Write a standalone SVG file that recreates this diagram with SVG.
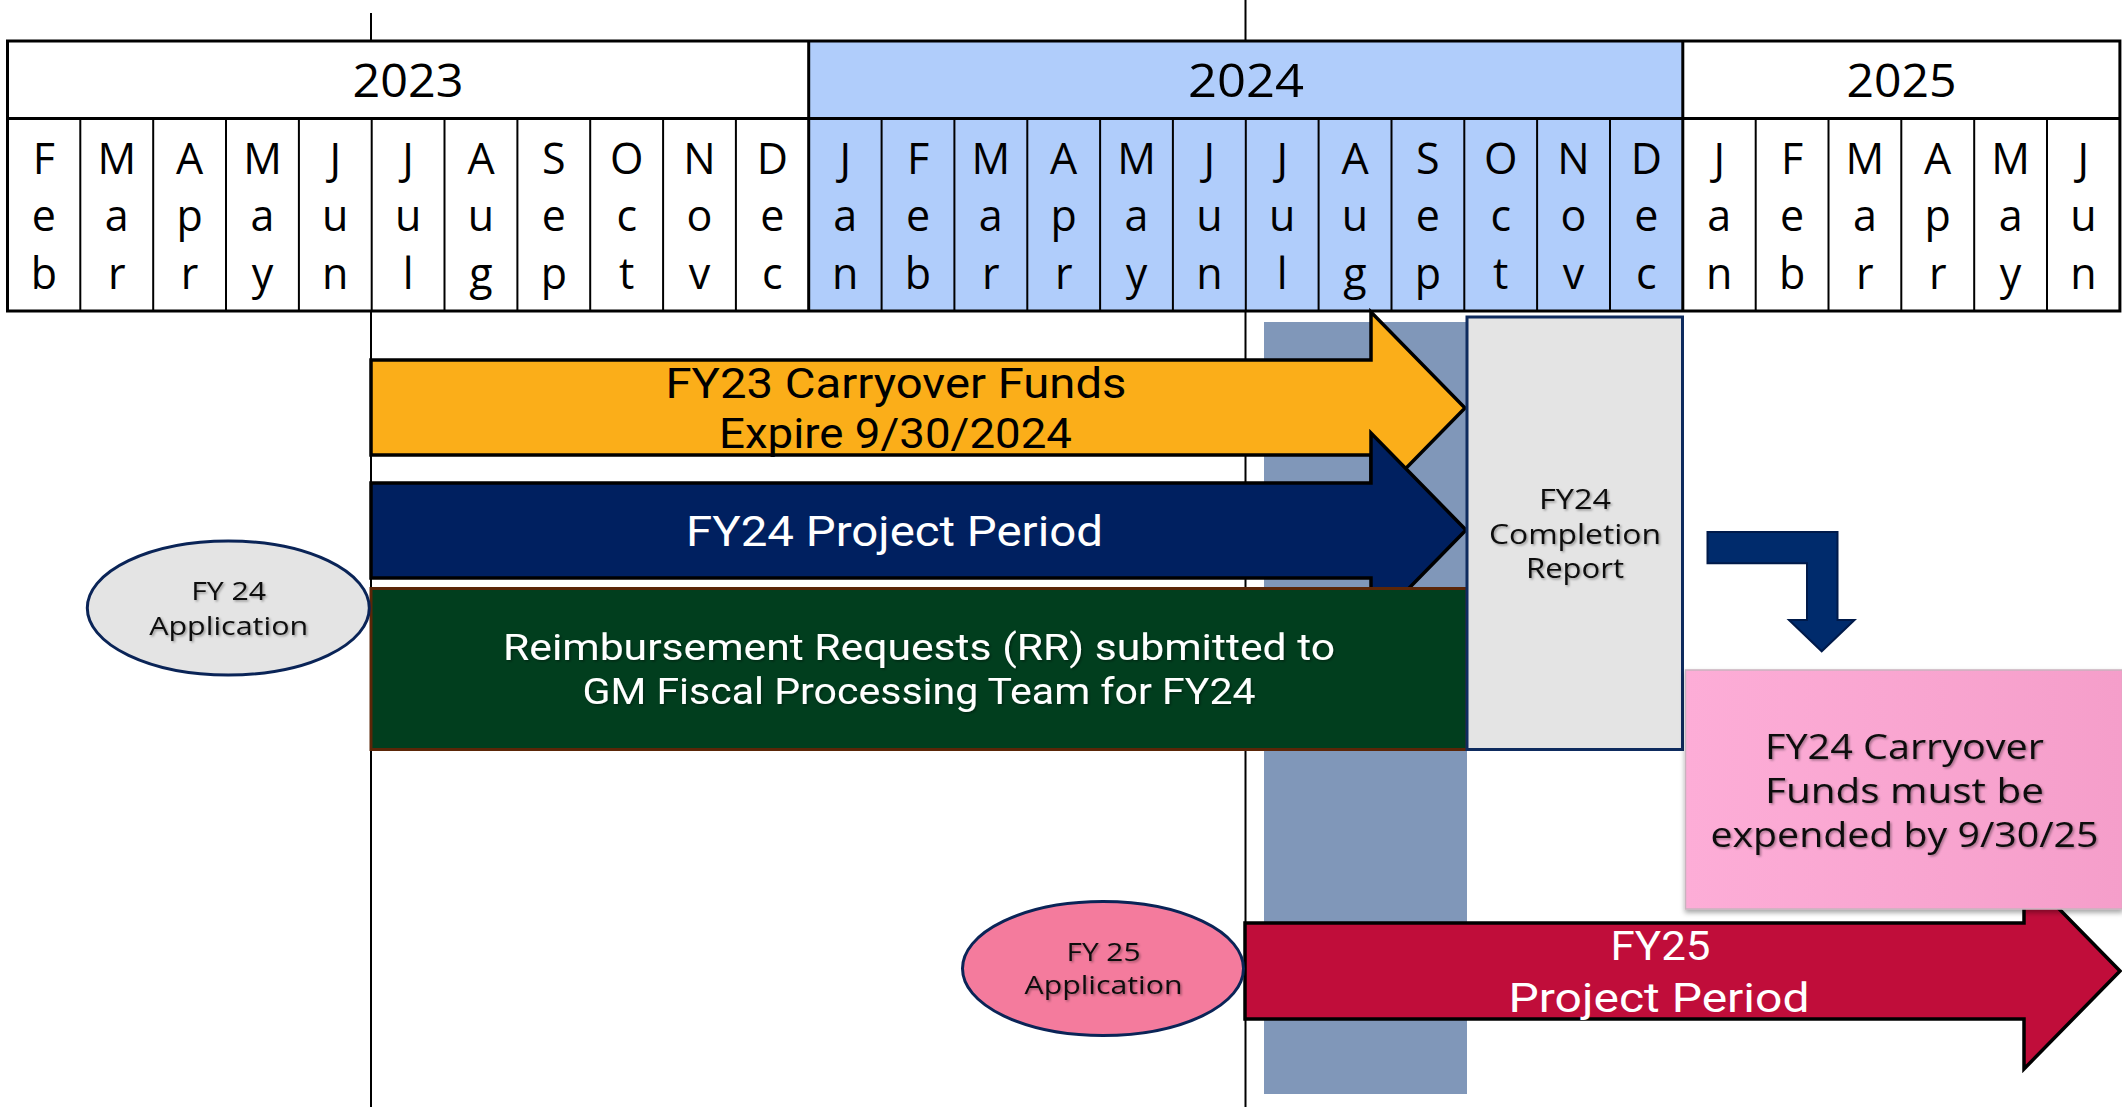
<svg xmlns="http://www.w3.org/2000/svg" width="2122" height="1107" viewBox="0 0 2122 1107">
  <style>
    .lbl { font-family: "Open Sans", "Noto Sans", "Liberation Sans", sans-serif; }
    .bar { font-family: Roboto, "Liberation Sans", sans-serif; }
    .month { font-size: 43px; fill: #000; text-anchor: middle; }
    .year { font-size: 46px; fill: #000; text-anchor: middle; }
    .mid { text-anchor: middle; }
    .arrow { stroke: #000; stroke-width: 3.5; stroke-linejoin: miter; }
    .grid { stroke: #000; stroke-width: 2; fill: none; }
    .rule { stroke: #000; stroke-width: 2; }
  </style>
  <defs>
    <filter id="softShadow" x="-10%" y="-20%" width="120%" height="140%">
      <feDropShadow dx="1.5" dy="1.5" stdDeviation="1" flood-color="#000" flood-opacity="0.35"/>
    </filter>
    <filter id="boxShadow" x="-5%" y="-5%" width="110%" height="115%">
      <feDropShadow dx="0" dy="3" stdDeviation="2.5" flood-color="#000" flood-opacity="0.35"/>
    </filter>
    <linearGradient id="pinkFill" x1="0" y1="0" x2="1" y2="0">
      <stop offset="0" stop-color="#FDADD7"/>
      <stop offset="1" stop-color="#F59ECA"/>
    </linearGradient>
  </defs>

  <rect width="2122" height="1107" fill="#fff"/>

  <!-- Timeline header: years and months -->
  <g id="timeline">
    <rect x="7.5" y="41" width="2112.4" height="270" fill="#fff"/>
    <rect x="808.7" y="41" width="874.1" height="270" fill="#B0CDFB"/>
    <path class="grid" d="M80.3,118.5V311 M153.2,118.5V311 M226,118.5V311 M298.9,118.5V311 M371.7,118.5V311 M444.5,118.5V311 M517.4,118.5V311 M590.2,118.5V311 M663.1,118.5V311 M735.9,118.5V311 M881.6,118.5V311 M954.4,118.5V311 M1027.3,118.5V311 M1100.1,118.5V311 M1172.9,118.5V311 M1245.8,118.5V311 M1318.6,118.5V311 M1391.5,118.5V311 M1464.3,118.5V311 M1537.1,118.5V311 M1610,118.5V311 M1755.7,118.5V311 M1828.5,118.5V311 M1901.3,118.5V311 M1974.2,118.5V311 M2047,118.5V311"/>
    <path d="M808.7,41V311 M1682.8,41V311 M7.5,118.5H2119.9" stroke="#000" stroke-width="3" fill="none"/>
    <rect x="7.5" y="41" width="2112.4" height="270" fill="none" stroke="#000" stroke-width="3"/>

    <text class="lbl year" x="408" y="96.5" textLength="111" lengthAdjust="spacingAndGlyphs">2023</text>
    <text class="lbl year" x="1246" y="96.5" textLength="116" lengthAdjust="spacingAndGlyphs">2024</text>
    <text class="lbl year" x="1901.5" y="96.5" textLength="110" lengthAdjust="spacingAndGlyphs">2025</text>

    <g class="lbl month">
      <text x="43.9" y="174"><tspan x="43.9">F</tspan><tspan x="43.9" dy="57.3">e</tspan><tspan x="43.9" dy="57.3">b</tspan></text>
      <text x="116.8" y="174"><tspan x="116.8">M</tspan><tspan x="116.8" dy="57.3">a</tspan><tspan x="116.8" dy="57.3">r</tspan></text>
      <text x="189.6" y="174"><tspan x="189.6">A</tspan><tspan x="189.6" dy="57.3">p</tspan><tspan x="189.6" dy="57.3">r</tspan></text>
      <text x="262.5" y="174"><tspan x="262.5">M</tspan><tspan x="262.5" dy="57.3">a</tspan><tspan x="262.5" dy="57.3">y</tspan></text>
      <text x="335.3" y="174"><tspan x="335.3">J</tspan><tspan x="335.3" dy="57.3">u</tspan><tspan x="335.3" dy="57.3">n</tspan></text>
      <text x="408.1" y="174"><tspan x="408.1">J</tspan><tspan x="408.1" dy="57.3">u</tspan><tspan x="408.1" dy="57.3">l</tspan></text>
      <text x="481" y="174"><tspan x="481">A</tspan><tspan x="481" dy="57.3">u</tspan><tspan x="481" dy="57.3">g</tspan></text>
      <text x="553.8" y="174"><tspan x="553.8">S</tspan><tspan x="553.8" dy="57.3">e</tspan><tspan x="553.8" dy="57.3">p</tspan></text>
      <text x="626.7" y="174"><tspan x="626.7">O</tspan><tspan x="626.7" dy="57.3">c</tspan><tspan x="626.7" dy="57.3">t</tspan></text>
      <text x="699.5" y="174"><tspan x="699.5">N</tspan><tspan x="699.5" dy="57.3">o</tspan><tspan x="699.5" dy="57.3">v</tspan></text>
      <text x="772.3" y="174"><tspan x="772.3">D</tspan><tspan x="772.3" dy="57.3">e</tspan><tspan x="772.3" dy="57.3">c</tspan></text>
      <text x="845.2" y="174"><tspan x="845.2">J</tspan><tspan x="845.2" dy="57.3">a</tspan><tspan x="845.2" dy="57.3">n</tspan></text>
      <text x="918" y="174"><tspan x="918">F</tspan><tspan x="918" dy="57.3">e</tspan><tspan x="918" dy="57.3">b</tspan></text>
      <text x="990.8" y="174"><tspan x="990.8">M</tspan><tspan x="990.8" dy="57.3">a</tspan><tspan x="990.8" dy="57.3">r</tspan></text>
      <text x="1063.7" y="174"><tspan x="1063.7">A</tspan><tspan x="1063.7" dy="57.3">p</tspan><tspan x="1063.7" dy="57.3">r</tspan></text>
      <text x="1136.5" y="174"><tspan x="1136.5">M</tspan><tspan x="1136.5" dy="57.3">a</tspan><tspan x="1136.5" dy="57.3">y</tspan></text>
      <text x="1209.4" y="174"><tspan x="1209.4">J</tspan><tspan x="1209.4" dy="57.3">u</tspan><tspan x="1209.4" dy="57.3">n</tspan></text>
      <text x="1282.2" y="174"><tspan x="1282.2">J</tspan><tspan x="1282.2" dy="57.3">u</tspan><tspan x="1282.2" dy="57.3">l</tspan></text>
      <text x="1355" y="174"><tspan x="1355">A</tspan><tspan x="1355" dy="57.3">u</tspan><tspan x="1355" dy="57.3">g</tspan></text>
      <text x="1427.9" y="174"><tspan x="1427.9">S</tspan><tspan x="1427.9" dy="57.3">e</tspan><tspan x="1427.9" dy="57.3">p</tspan></text>
      <text x="1500.7" y="174"><tspan x="1500.7">O</tspan><tspan x="1500.7" dy="57.3">c</tspan><tspan x="1500.7" dy="57.3">t</tspan></text>
      <text x="1573.5" y="174"><tspan x="1573.5">N</tspan><tspan x="1573.5" dy="57.3">o</tspan><tspan x="1573.5" dy="57.3">v</tspan></text>
      <text x="1646.4" y="174"><tspan x="1646.4">D</tspan><tspan x="1646.4" dy="57.3">e</tspan><tspan x="1646.4" dy="57.3">c</tspan></text>
      <text x="1719.2" y="174"><tspan x="1719.2">J</tspan><tspan x="1719.2" dy="57.3">a</tspan><tspan x="1719.2" dy="57.3">n</tspan></text>
      <text x="1792.1" y="174"><tspan x="1792.1">F</tspan><tspan x="1792.1" dy="57.3">e</tspan><tspan x="1792.1" dy="57.3">b</tspan></text>
      <text x="1864.9" y="174"><tspan x="1864.9">M</tspan><tspan x="1864.9" dy="57.3">a</tspan><tspan x="1864.9" dy="57.3">r</tspan></text>
      <text x="1937.7" y="174"><tspan x="1937.7">A</tspan><tspan x="1937.7" dy="57.3">p</tspan><tspan x="1937.7" dy="57.3">r</tspan></text>
      <text x="2010.6" y="174"><tspan x="2010.6">M</tspan><tspan x="2010.6" dy="57.3">a</tspan><tspan x="2010.6" dy="57.3">y</tspan></text>
      <text x="2083.4" y="174"><tspan x="2083.4">J</tspan><tspan x="2083.4" dy="57.3">u</tspan><tspan x="2083.4" dy="57.3">n</tspan></text>
    </g>
  </g>

  <!-- July start markers -->
  <g id="markers">
    <path class="rule" d="M371,13V41 M371,311V1107 M1245.5,0V41 M1245.5,311V1107"/>
  </g>

  <!-- Shaded window Jul-Sep 2024 -->
  <g id="window">
    <rect x="1264" y="322" width="203" height="772" fill="#8097B9"/>
  </g>

  <g id="fy23-carryover">
    <path class="arrow" fill="#FBAE19" d="M371,360H1371V312L1465,408L1371,504V455H371Z"/>
    <text class="bar mid" x="896" y="397.5" font-size="42" fill="#000" textLength="461" lengthAdjust="spacingAndGlyphs">FY23 Carryover Funds</text>
    <text class="bar mid" x="895.5" y="448" font-size="42" fill="#000" textLength="353" lengthAdjust="spacingAndGlyphs">Expire 9/30/2024</text>
  </g>

  <g id="fy24-project-period">
    <path class="arrow" fill="#002060" d="M371,483H1371V433L1466,530L1371,627V578H371Z"/>
    <text class="bar mid" x="894.5" y="546" font-size="42" fill="#fff" textLength="417" lengthAdjust="spacingAndGlyphs">FY24 Project Period</text>
  </g>

  <g id="reimbursement">
    <rect x="371" y="588.5" width="1096" height="161" fill="#013E1E" stroke="#5B2608" stroke-width="3"/>
    <g filter="url(#softShadow)">
      <text class="bar mid" x="919" y="660" font-size="37" fill="#fff" textLength="832" lengthAdjust="spacingAndGlyphs">Reimbursement Requests (RR) submitted to</text>
      <text class="bar mid" x="919" y="704" font-size="37" fill="#fff" textLength="673" lengthAdjust="spacingAndGlyphs">GM Fiscal Processing Team for FY24</text>
    </g>
  </g>

  <g id="completion-report">
    <rect x="1467" y="317" width="215.5" height="432.5" fill="#E4E4E4" stroke="#0E2B5E" stroke-width="3"/>
    <g filter="url(#softShadow)" fill="#111">
      <text class="lbl mid" x="1575" y="508.5" font-size="27" textLength="72" lengthAdjust="spacingAndGlyphs">FY24</text>
      <text class="lbl mid" x="1575" y="543.5" font-size="27" textLength="172" lengthAdjust="spacingAndGlyphs">Completion</text>
      <text class="lbl mid" x="1575" y="578" font-size="27" textLength="98" lengthAdjust="spacingAndGlyphs">Report</text>
    </g>
  </g>

  <g id="connectors">
    <path d="M1707.5,532H1837.5V620H1854.5L1821.7,651.3L1789,620H1807V563.3H1707.5Z" fill="#002B6C" stroke="#001A4A" stroke-width="2"/>
  </g>

  <g id="fy25-project-period">
    <path class="arrow" fill="#C00D3A" d="M1245,923H2024V873L2120,971L2024,1069V1019H1245Z"/>
    <text class="bar mid" x="1660.5" y="960" font-size="40" fill="#fff" textLength="100" lengthAdjust="spacingAndGlyphs">FY25</text>
    <text class="bar mid" x="1659" y="1011.5" font-size="40" fill="#fff" textLength="301" lengthAdjust="spacingAndGlyphs">Project Period</text>
  </g>

  <g id="fy24-carryover-deadline">
    <rect x="1685.5" y="670" width="437" height="239" fill="url(#pinkFill)" stroke="#C9B3BE" stroke-width="1.5" filter="url(#boxShadow)"/>
    <g filter="url(#softShadow)" fill="#111">
      <text class="lbl mid" x="1904.5" y="758.5" font-size="34" textLength="279" lengthAdjust="spacingAndGlyphs">FY24 Carryover</text>
      <text class="lbl mid" x="1904.5" y="802.5" font-size="34" textLength="279" lengthAdjust="spacingAndGlyphs">Funds must be</text>
      <text class="lbl mid" x="1904.5" y="846.5" font-size="34" textLength="388" lengthAdjust="spacingAndGlyphs">expended by 9/30/25</text>
    </g>
  </g>

  <g id="fy24-application">
    <ellipse cx="228.3" cy="608" rx="141" ry="67" fill="#E4E4E4" stroke="#0A2457" stroke-width="3"/>
    <g filter="url(#softShadow)" fill="#111">
      <text class="lbl mid" x="228.7" y="600" font-size="26" textLength="75" lengthAdjust="spacingAndGlyphs">FY 24</text>
      <text class="lbl mid" x="228.7" y="635" font-size="26" textLength="159" lengthAdjust="spacingAndGlyphs">Application</text>
    </g>
  </g>

  <g id="fy25-application">
    <ellipse cx="1103" cy="968.5" rx="140.5" ry="67" fill="#F47B9D" stroke="#0A2457" stroke-width="3"/>
    <g filter="url(#softShadow)" fill="#111">
      <text class="lbl mid" x="1103.5" y="961" font-size="25" textLength="74" lengthAdjust="spacingAndGlyphs">FY 25</text>
      <text class="lbl mid" x="1103.5" y="994" font-size="25" textLength="158" lengthAdjust="spacingAndGlyphs">Application</text>
    </g>
  </g>
</svg>
